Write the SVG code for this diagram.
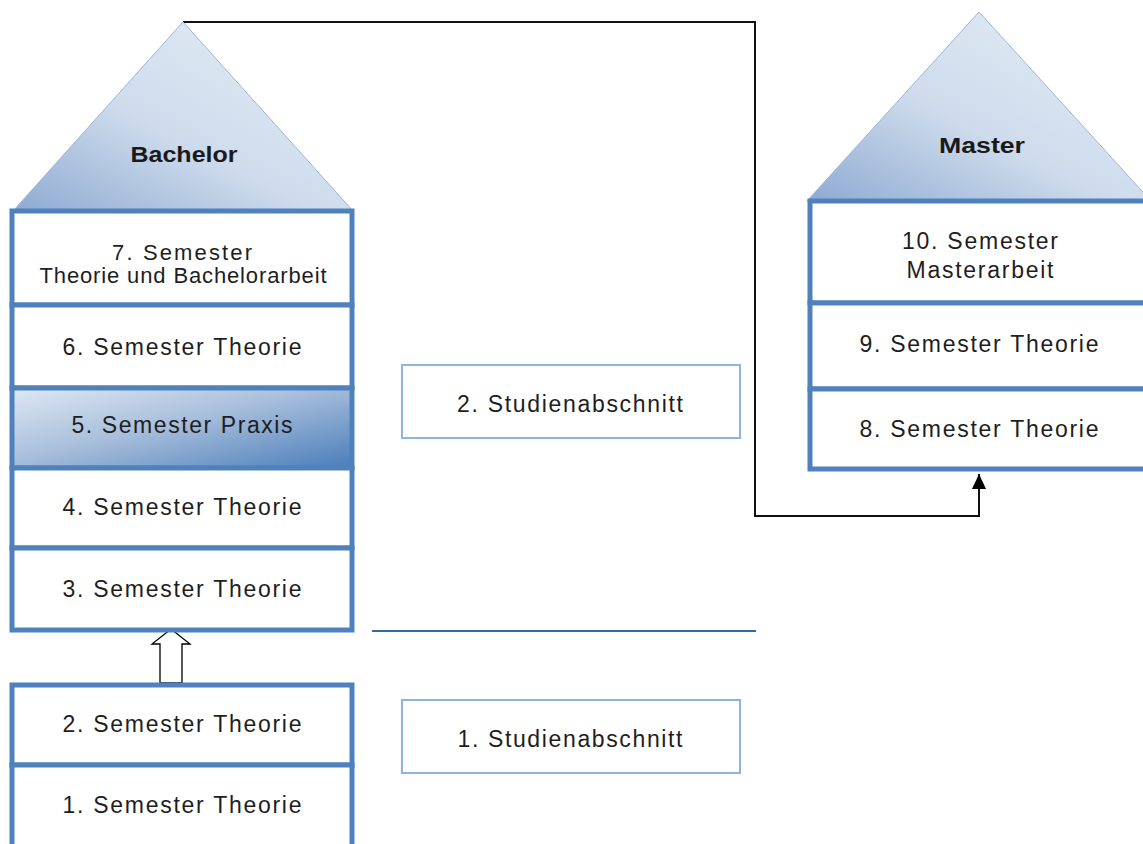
<svg xmlns="http://www.w3.org/2000/svg" width="1143" height="844" viewBox="0 0 1143 844">
  <defs>
    <linearGradient id="roof" x1="0" y1="1" x2="0.75" y2="0.2">
      <stop offset="0" stop-color="#8eaad2"/>
      <stop offset="0.55" stop-color="#cddbec"/>
      <stop offset="1" stop-color="#dde7f2"/>
    </linearGradient>
    <linearGradient id="praxis" x1="0" y1="0" x2="1" y2="1">
      <stop offset="0" stop-color="#dfe8f3"/>
      <stop offset="0.45" stop-color="#a9bfdc"/>
      <stop offset="1" stop-color="#4a7dba"/>
    </linearGradient>
    <marker id="arrow" viewBox="0 0 15 14" refX="15" refY="7" markerWidth="15" markerHeight="14" markerUnits="userSpaceOnUse" orient="auto">
      <path d="M0,0 L15,7 L0,14 Z" fill="#000"/>
    </marker>
    <style>
      .sem { fill: #ffffff; stroke: #4f81bd; stroke-width: 5; }
      .roof { fill: url(#roof); stroke: #9ab6d8; stroke-width: 1; }
      .t { font-family: "Liberation Sans", Arial, sans-serif; font-size: 23px; fill: #1e1e1e; text-anchor: middle; }
      .t2 { font-family: "Liberation Sans", Arial, sans-serif; font-size: 22px; fill: #1e1e1e; text-anchor: middle; }
      .b { font-family: "Liberation Sans", Arial, sans-serif; font-size: 22px; font-weight: bold; fill: #1a1a1a; text-anchor: middle; }
      .sec { fill: #ffffff; stroke: #8eb4e3; stroke-width: 2; }
      .conn { fill: none; stroke: #111; stroke-width: 2; }
    </style>
  </defs>

  <g id="connectors">
    <path class="conn" d="M183,22 H755 V516 H979 V474" marker-end="url(#arrow)"/>
    <line x1="372" y1="631" x2="756" y2="631" stroke="#2e6aa3" stroke-width="2"/>
    <polygon id="hollow-arrow" points="171,629 190,644 182,644 182,683 160,683 160,644 152,644" fill="#ffffff" stroke="#000" stroke-width="1.3"/>
  </g>

  <g id="bachelor-roof">
    <polygon class="roof" points="183,22 13,211 353,211"/>
    <text class="b" x="184" y="162" textLength="107" lengthAdjust="spacingAndGlyphs">Bachelor</text>
  </g>

  <g id="sem7">
    <rect class="sem" x="12" y="211" width="340" height="94"/>
    <text class="t2" x="182" y="260" textLength="140" lengthAdjust="spacing">7. Semester</text>
    <text class="t2" x="183" y="283" textLength="287" lengthAdjust="spacing">Theorie und Bachelorarbeit</text>
  </g>
  <g id="sem6">
    <rect class="sem" x="12" y="305" width="340" height="83"/>
    <text class="t" x="182" y="355" textLength="239" lengthAdjust="spacing">6. Semester Theorie</text>
  </g>
  <g id="sem5">
    <rect class="sem" x="12" y="388" width="340" height="80" style="fill:url(#praxis)"/>
    <text class="t" x="182" y="433" textLength="221" lengthAdjust="spacing">5. Semester Praxis</text>
  </g>
  <g id="sem4">
    <rect class="sem" x="12" y="468" width="340" height="80"/>
    <text class="t" x="182" y="515" textLength="239" lengthAdjust="spacing">4. Semester Theorie</text>
  </g>
  <g id="sem3">
    <rect class="sem" x="12" y="548" width="340" height="82"/>
    <text class="t" x="182" y="597" textLength="239" lengthAdjust="spacing">3. Semester Theorie</text>
  </g>
  <g id="sem2">
    <rect class="sem" x="12" y="685" width="340" height="80"/>
    <text class="t" x="182" y="732" textLength="239" lengthAdjust="spacing">2. Semester Theorie</text>
  </g>
  <g id="sem1">
    <rect class="sem" x="12" y="765" width="340" height="90"/>
    <text class="t" x="182" y="813" textLength="239" lengthAdjust="spacing">1. Semester Theorie</text>
  </g>

  <g id="master-roof">
    <polygon class="roof" points="979,12 807,201 1151,201"/>
    <text class="b" x="982" y="153" textLength="86" lengthAdjust="spacingAndGlyphs">Master</text>
  </g>
  <g id="sem10">
    <rect class="sem" x="810" y="201" width="338" height="102"/>
    <text class="t" x="980" y="249" textLength="156" lengthAdjust="spacing">10. Semester</text>
    <text class="t" x="980" y="278" textLength="147" lengthAdjust="spacing">Masterarbeit</text>
  </g>
  <g id="sem9">
    <rect class="sem" x="810" y="303" width="338" height="86"/>
    <text class="t" x="979" y="352" textLength="239" lengthAdjust="spacing">9. Semester Theorie</text>
  </g>
  <g id="sem8">
    <rect class="sem" x="810" y="389" width="338" height="80"/>
    <text class="t" x="979" y="437" textLength="239" lengthAdjust="spacing">8. Semester Theorie</text>
  </g>

  <g id="abschnitt2">
    <rect class="sec" x="402" y="365" width="338" height="73"/>
    <text class="t" x="570" y="412" textLength="226" lengthAdjust="spacing">2. Studienabschnitt</text>
  </g>
  <g id="abschnitt1">
    <rect class="sec" x="402" y="700" width="338" height="73"/>
    <text class="t" x="570" y="747" textLength="225" lengthAdjust="spacing">1. Studienabschnitt</text>
  </g>
</svg>
